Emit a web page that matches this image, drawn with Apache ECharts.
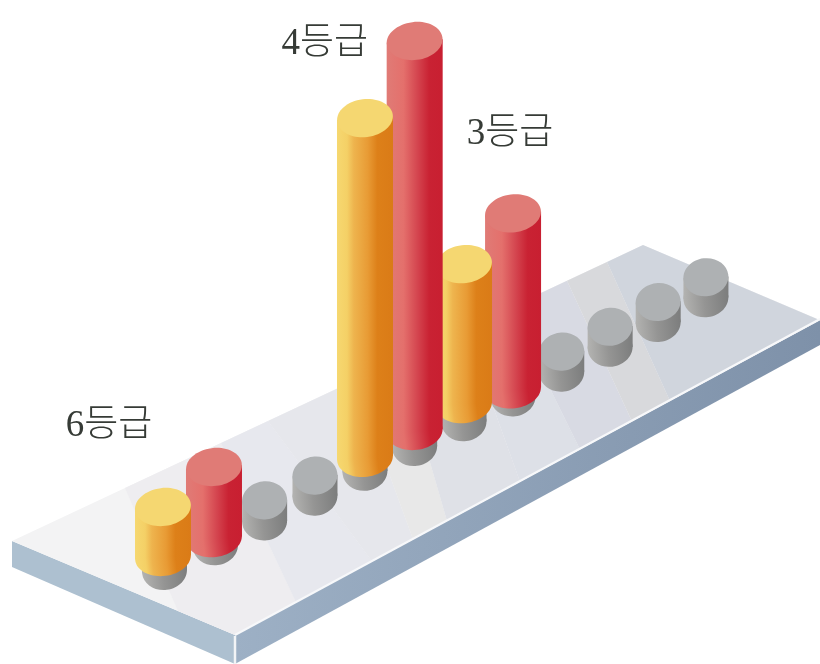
<!DOCTYPE html>
<html><head><meta charset="utf-8">
<style>html,body{margin:0;padding:0;background:#fff}#c{width:820px;height:664px}</style>
<script src="https://cdn.jsdelivr.net/npm/echarts@6/dist/echarts.min.js"></script>
</head><body><div id="c"></div>
<script>
// Data (heights in arbitrary axis units)
const slots = [0,1,2,3,4,5,6,7,8,9,10,11];
const greyValues = [5.25,5.25,5.25,5.25,5.25,5.25,5.25,5.25,5.25,5.25,5.25,5.25];
const yellowSlots = [0,4,6];
const yellowValues = [16,88.4,39.5];
const yellowFloor = [3.5,3.5,4.5];
const redSlots = [1,5,7];
const redValues = [19.8,101.5,46];
const redFloor = [2,4,2];
const gradeLabels = ['6등급','4등급','3등급'];

// Projection and style constants
const RISE = 24.8, BEND = 0.163, TILT = 0.12, RY = 19;
const YELLOW = {rx:28,ry:RY,top:'#f5d771',stops:[[0,'#f6d870'],[0.18,'#f4d066'],[0.3,'#eeb44e'],[0.55,'#e89b35'],[0.72,'#dd8019'],[1,'#da7b17']]};
const RED = {rx:28,ry:RY,top:'#e07b76',stops:[[0,'#e07b76'],[0.3,'#e4706c'],[0.55,'#d4454f'],[0.76,'#c92233'],[1,'#c81f31']]};
const GREY = {rx:22.5,ry:RY,top:'#aeb1b3',stops:[[0,'#b3b3b1'],[0.45,'#959594'],[1,'#7c7d7d']]};

function project(api,i,v){
  const c = api.coord([i,v]);
  return [c[0]-BEND*i*i, c[1]-RISE*i];
}
function cylinder(st,x,yBase,yTop,z){
  const fill = {type:'linear',x:0,y:0,x2:1,y2:0,colorStops:st.stops.map(s=>({offset:s[0],color:s[1]}))};
  const ell = (cy,f,zz)=>({type:'ellipse',shape:{cx:x,cy:cy,rx:st.rx,ry:st.ry},rotation:TILT,originX:x,originY:cy,style:{fill:f},z2:zz,silent:true});
  const d = (st.rx*st.rx-st.ry*st.ry)*Math.sin(TILT)*Math.cos(TILT)/st.rx;
  return {type:'group',children:[
    ell(yBase,fill,z),
    {type:'polygon',shape:{points:[[x-st.rx,yTop+d],[x+st.rx,yTop-d],[x+st.rx,yBase-d],[x-st.rx,yBase+d]]},style:{fill:fill},z2:z,silent:true},
    ell(yTop,st.top,z+1)
  ]};
}
function renderGrey(p,api){
  const i=api.value(0), v=api.value(1);
  const b=project(api,i,0), t=project(api,i,v);
  return cylinder(GREY,b[0]+(i<2?1.5:0),b[1],t[1],(12-i)*10);
}
function renderBar(style){
  return function(p,api){
    const i=api.value(0), v=api.value(1), f=api.value(2);
    const b=project(api,i,f), t=project(api,i,v);
    return cylinder(style,b[0],b[1],t[1],(12-i)*10+(style===YELLOW?6:3));
  };
}
function renderLabel(offsets){
  return function(p,api){
    const i=api.value(0), v=api.value(1);
    const t=project(api,i,v), o=offsets[p.dataIndex];
    return {type:'text',z2:500,silent:true,style:{x:t[0]+o[0],y:t[1]+o[1],text:gradeLabels[p.dataIndex],
      fill:'#363b36',font:'300 37px "Liberation Serif","Noto Sans CJK KR"',align:'center',verticalAlign:'middle'}};
  };
}

// Platform decoration
const poly=(pts,fill,z)=>({type:'polygon',z:z,silent:true,shape:{points:pts},style:{fill:fill}});
const bx=x=>[x,541-0.469*(x-12)], fx=x=>[x,635-0.538*(x-235)];
const bands=[[221,296,'#eeedf0'],[268,372,'#e7e8ee'],[355,413,'#e6e7ec'],[400,447,'#e8e8e8'],[465,520,'#dfe1e7'],[510,580,'#dde0e7'],[567,632,'#d8dae3'],[607,670,'#d8d9dc'],[643,820,'#d0d5dd']];
const platform=[
  poly([[12,541],[12,567],[235,664],[235,635]],'#adc0d0',-10),
  poly([[235,635],[820,320],[820,345],[235,664]],{type:'linear',x:0,y:0,x2:1,y2:0,colorStops:[{offset:0,color:'#9db0c5'},{offset:1,color:'#7e91a9'}]},-10),
  poly([[12,541],[643,245],[820,320],[235,635]],'#f3f3f4',-9)
];
let prev=[bx(125),[178,611]];
bands.forEach((b,k)=>{
  const pts=[prev[0],bx(b[0])];
  pts.push(fx(b[1]));
  if(k===0)pts.push([235,635]);
  pts.push(...prev.slice(1));
  platform.push(poly(pts,b[2],-8));
  prev=[bx(b[0]),fx(b[1])];
});
platform.push({type:'polyline',z:-7,silent:true,shape:{points:[[235,635],[820,319]]},style:{stroke:'#f7f8fa',lineWidth:2,fill:null}});
platform.push({type:'line',z:-7,silent:true,shape:{x1:235,y1:636,x2:235,y2:664},style:{stroke:'#f2f4f6',lineWidth:2.5}});

const chart=echarts.init(document.getElementById('c'),null,{renderer:'canvas'});
chart.setOption({
  backgroundColor:'#fff',animation:false,
  grid:{left:163,right:43.2,top:11,bottom:93},
  xAxis:{type:'value',min:0,max:12,show:false},
  yAxis:{type:'value',min:0,max:140,show:false},
  graphic:{elements:platform},
  series:[
    {type:'custom',renderItem:renderGrey,clip:false,data:slots.map((s,k)=>[s,greyValues[k]])},
    {type:'custom',renderItem:renderBar(YELLOW),clip:false,data:yellowSlots.map((s,k)=>[s,yellowValues[k],yellowFloor[k]])},
    {type:'custom',renderItem:renderBar(RED),clip:false,data:redSlots.map((s,k)=>[s,redValues[k],redFloor[k]])},
    {type:'custom',renderItem:renderLabel([[-54,-80.5],[-90,3.5],[-3,-79.5]]),clip:false,
      data:[[yellowSlots[0],yellowValues[0]],[redSlots[1],redValues[1]],[redSlots[2],redValues[2]]]}
  ]
});
</script></body></html>
